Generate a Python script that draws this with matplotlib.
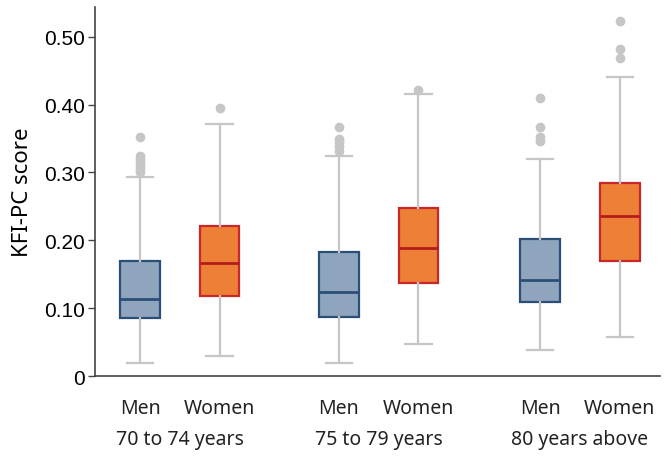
import numpy as np
import matplotlib
matplotlib.use("Agg")
import matplotlib.pyplot as plt

# valeurs (KFI-PC score)
sexes = ["Men", "Women", "Men", "Women", "Men", "Women"]
groupes = ["70 to 74 years", "75 to 79 years", "80 years above"]
w_bas = [0.019, 0.030, 0.019, 0.047, 0.038, 0.057]
q1 = [0.086, 0.118, 0.087, 0.137, 0.109, 0.170]
mediane = [0.113, 0.167, 0.124, 0.189, 0.141, 0.236]
q3 = [0.170, 0.221, 0.183, 0.248, 0.202, 0.285]
w_haut = [0.293, 0.372, 0.324, 0.415, 0.320, 0.440]
extremes = [
    [0.300, 0.305, 0.310, 0.315, 0.320, 0.325, 0.353],
    [0.395],
    [0.332, 0.339, 0.345, 0.350, 0.367],
    [0.422],
    [0.347, 0.352, 0.367, 0.410],
    [0.469, 0.482, 0.523],
]

positions = [0, 1, 2.5, 3.5, 5.03, 6.03]
col_fond = ["#8ea5bd", "#ee7f36"]
col_bord = ["#2c4f77", "#c9282b"]
col_med = ["#2c4f77", "#b51d1d"]
gris = "#c6c6c6"

plt.rcParams['font.family'] = ['Noto Sans', 'DejaVu Sans']

fig = plt.figure(figsize=(6.71, 4.60), dpi=100)
ax = fig.add_axes([0.1416, 0.180, 0.984 - 0.1416, 0.983 - 0.180])

stats = []
for i in range(6):
    stats.append(dict(whislo=w_bas[i], q1=q1[i], med=mediane[i], q3=q3[i],
                      whishi=w_haut[i], fliers=extremes[i]))

for i in range(6):
    c = i % 2
    ax.bxp([stats[i]], positions=[positions[i]], widths=0.5, patch_artist=True,
           showfliers=True, capwidths=0.33,
           boxprops=dict(facecolor=col_fond[c], edgecolor=col_bord[c], linewidth=1.6),
           medianprops=dict(color=col_med[c], linewidth=2),
           whiskerprops=dict(color=gris, linewidth=1.6),
           capprops=dict(color=gris, linewidth=1.6),
           flierprops=dict(marker="o", markerfacecolor=gris, markeredgecolor=gris,
                           markersize=6),
           zorder=3)

ax.set_xlim(-0.566, 6.54)
ax.set_ylim(0, 0.544)
ax.set_yticks([0, 0.1, 0.2, 0.3, 0.4, 0.5])
ax.set_yticklabels(["0", "0.10", "0.20", "0.30", "0.40", "0.50"],
                   family=['Liberation Sans', 'DejaVu Sans'])
ax.set_xticks(positions)
ax.set_xticklabels(sexes)
ax.tick_params(axis="y", labelsize=15, length=5, width=1, color="#444444", pad=2)
ax.tick_params(axis="x", labelsize=14, length=0, pad=16, colors="#222222")
ax.set_ylabel("KFI-PC score", fontsize=16, labelpad=8)

for s in ["top", "right"]:
    ax.spines[s].set_visible(False)
ax.spines["left"].set_color("#444444")
ax.spines["bottom"].set_color("#444444")
ax.spines["left"].set_linewidth(1.2)
ax.spines["bottom"].set_linewidth(1.2)

for k, g in enumerate(groupes):
    xm = (positions[2 * k] + positions[2 * k + 1]) / 2
    ax.text(xm, -0.092, g, ha="center", va="center", fontsize=14, color="#222222")

fig.savefig("out.png", dpi=100)
